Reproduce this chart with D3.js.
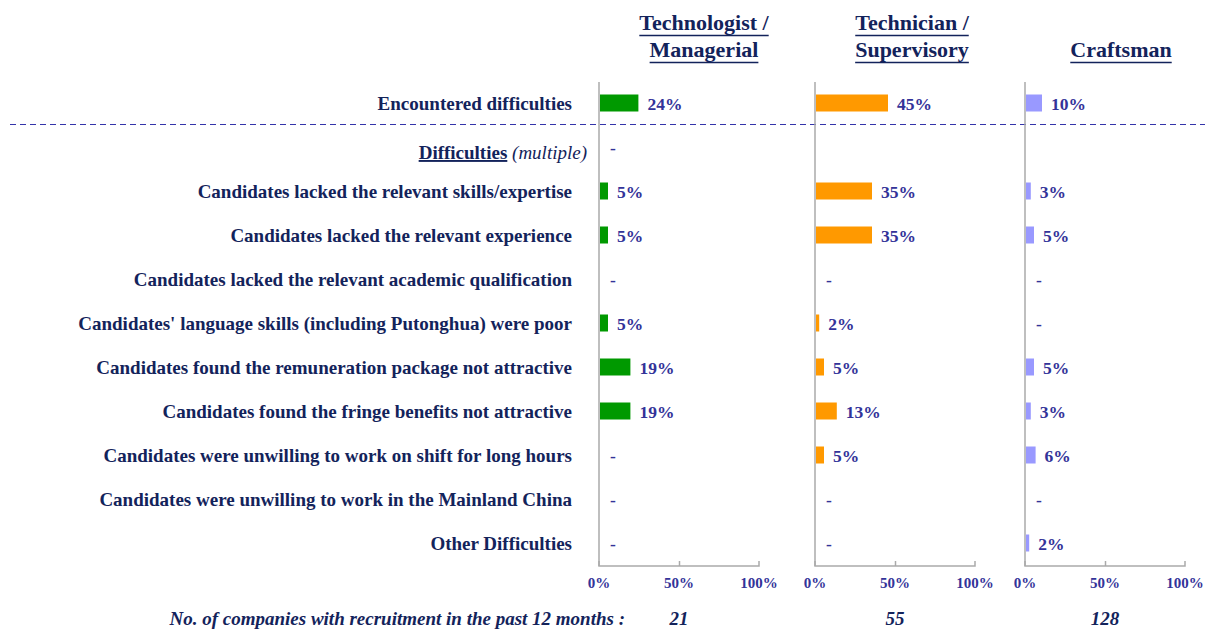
<!DOCTYPE html>
<html>
<head>
<meta charset="utf-8">
<script src="https://cdn.jsdelivr.net/npm/d3@7"></script>
<style>
  body { margin: 0; background: #fff; }
  text { font-family: "Liberation Serif", "Times New Roman", serif; }
</style>
</head>
<body>
<svg id="chart" width="1205" height="630"></svg>
<script>
// Data
const categories = [
  "Encountered difficulties",
  "Difficulties",
  "Candidates lacked the relevant skills/expertise",
  "Candidates lacked the relevant experience",
  "Candidates lacked the relevant academic qualification",
  "Candidates' language skills (including Putonghua) were poor",
  "Candidates found the remuneration package not attractive",
  "Candidates found the fringe benefits not attractive",
  "Candidates were unwilling to work on shift for long hours",
  "Candidates were unwilling to work in the Mainland China",
  "Other Difficulties"
];
const groups = ["Technologist / Managerial", "Technician / Supervisory", "Craftsman"];
const headerLines = [["Technologist /", "Managerial"], ["Technician /", "Supervisory"], ["Craftsman"]];
const technologistValues = [24, 0, 5, 5, 0, 5, 19, 19, 0, 0, 0];
const technicianValues = [45, null, 35, 35, 0, 2, 5, 13, 5, 0, 0];
const craftsmanValues = [10, null, 3, 5, 0, 0, 5, 3, 6, 0, 2];
const companyCounts = [21, 55, 128];
const tickValues = [0, 50, 100];
const colors = ["#009900", "#FF9900", "#9999FF"];

const seriesValues = [technologistValues, technicianValues, craftsmanValues];

const svg = d3.select("#chart");
const navy = "#13235B", labelBlue = "#333399";
const panelX = [599, 815, 1025], panelW = 160;
const headerOffset = [105, 97, 96];
const topY = 82, axisY = 566;

const y = d3.scalePoint().domain(categories).range([103, 543]);

// Row labels
categories.forEach((c, i) => {
  if (c === "Difficulties") {
    const t = svg.append("text")
      .attr("x", 587).attr("y", y(c) + 12)
      .attr("text-anchor", "end")
      .attr("font-size", 19).attr("fill", navy);
    t.append("tspan").attr("font-weight", "bold").attr("text-decoration", "underline").text("Difficulties");
    t.append("tspan").attr("font-style", "italic").text(" (multiple)");
  } else {
    svg.append("text")
      .attr("x", 572).attr("y", y(c) + 6.5)
      .attr("text-anchor", "end")
      .attr("font-size", 19).attr("font-weight", "bold").attr("fill", navy)
      .text(c);
  }
});

// Dashed separator
svg.append("line")
  .attr("x1", 10).attr("x2", 1205).attr("y1", 124.5).attr("y2", 124.5)
  .attr("stroke", "#3333AA").attr("stroke-width", 1.2).attr("stroke-dasharray", "6,4");

groups.forEach((g, gi) => {
  const x = d3.scaleLinear().domain([0, 100]).range([panelX[gi], panelX[gi] + panelW]);
  const panel = svg.append("g");

  // Bottom axis
  const ax = panel.append("g")
    .attr("transform", `translate(0,${axisY})`)
    .call(d3.axisTop(x).tickValues(tickValues).tickSize(5).tickFormat(""));
  ax.selectAll("path, line").attr("stroke", "#aaa").attr("stroke-width", 1.5);
  ax.select(".domain").attr("d", `M${x(0)},-5V0H${x(100)}V-5`);
  ax.selectAll(".tick").filter((d, i) => i !== 1).select("line").remove();

  panel.selectAll(".ticklabel").data(tickValues).join("text")
    .attr("x", d => x(d)).attr("y", axisY + 22)
    .attr("text-anchor", "middle")
    .attr("font-size", 15).attr("font-weight", "bold").attr("fill", labelBlue)
    .text(d => d + "%");

  // Vertical baseline
  panel.append("line")
    .attr("x1", x(0)).attr("x2", x(0)).attr("y1", topY).attr("y2", axisY)
    .attr("stroke", "#aaa").attr("stroke-width", 1.5);

  const data = categories.map((c, i) => ({ c, v: seriesValues[gi][i] })).filter(d => d.v !== null);

  panel.selectAll(".bar").data(data.filter(d => d.v > 0)).join("rect")
    .attr("x", x(0) + 1).attr("y", d => y(d.c) - 8.5)
    .attr("width", d => x(d.v) - x(0)).attr("height", 17)
    .attr("fill", colors[gi]);

  panel.selectAll(".val").data(data).join("text")
    .attr("x", d => d.v > 0 ? x(d.v) + 10 : x(0) + 11)
    .attr("y", d => y(d.c) + 6.5)
    .attr("font-size", 17.5).attr("font-weight", "bold").attr("fill", labelBlue)
    .text(d => d.v > 0 ? d.v + "%" : "-");

  // Header
  const hx = x(0) + headerOffset[gi];
  headerLines[gi].forEach((line, li) => {
    const ly = headerLines[gi].length === 2 ? 30 + li * 27 : 57;
    const t = svg.append("text")
      .attr("x", hx).attr("y", ly)
      .attr("text-anchor", "middle")
      .attr("font-size", 22).attr("font-weight", "bold").attr("fill", navy)
      .text(line);
    const w = t.node().getComputedTextLength();
    svg.append("line")
      .attr("x1", hx - w / 2).attr("x2", hx + w / 2)
      .attr("y1", ly + 5.5).attr("y2", ly + 5.5)
      .attr("stroke", navy).attr("stroke-width", 1.4);
  });

  // Company counts
  svg.append("text")
    .attr("x", x(50)).attr("y", 625)
    .attr("text-anchor", "middle")
    .attr("font-size", 19).attr("font-weight", "bold").attr("font-style", "italic").attr("fill", navy)
    .text(companyCounts[gi]);
});

svg.append("text")
  .attr("x", 625).attr("y", 625)
  .attr("text-anchor", "end")
  .attr("font-size", 19).attr("font-weight", "bold").attr("font-style", "italic").attr("fill", navy)
  .text("No. of companies with recruitment in the past 12 months :");
</script>
</body>
</html>
